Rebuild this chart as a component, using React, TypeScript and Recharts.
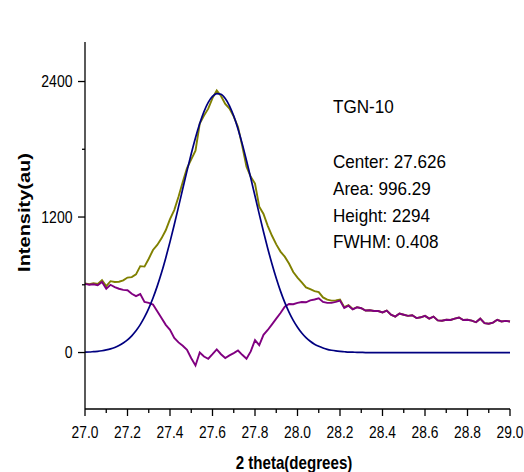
import { LineChart, Line, XAxis, YAxis } from 'recharts';

// 2 theta grid (deg)
const twoTheta = [
  27.0, 27.02, 27.04, 27.06, 27.08, 27.1, 27.12, 27.14, 27.16, 27.18,
  27.2, 27.22, 27.24, 27.26, 27.28, 27.3, 27.32, 27.34, 27.36, 27.38,
  27.4, 27.42, 27.44, 27.46, 27.48, 27.5, 27.52, 27.54, 27.56, 27.58,
  27.6, 27.62, 27.64, 27.66, 27.68, 27.7, 27.72, 27.74, 27.76, 27.78,
  27.8, 27.82, 27.84, 27.86, 27.88, 27.9, 27.92, 27.94, 27.96, 27.98,
  28.0, 28.02, 28.04, 28.06, 28.08, 28.1, 28.12, 28.14, 28.16, 28.18,
  28.2, 28.22, 28.24, 28.26, 28.28, 28.3, 28.32, 28.34, 28.36, 28.38,
  28.4, 28.42, 28.44, 28.46, 28.48, 28.5, 28.52, 28.54, 28.56, 28.58,
  28.6, 28.62, 28.64, 28.66, 28.68, 28.7, 28.72, 28.74, 28.76, 28.78,
  28.8, 28.82, 28.84, 28.86, 28.88, 28.9, 28.92, 28.94, 28.96, 28.98,
  29.0,
];

// measured intensity (olive)
const measured = [
  611, 605, 613, 607, 641, 588, 632, 625, 627, 639,
  664, 668, 692, 765, 761, 831, 908, 953, 1011, 1083,
  1181, 1262, 1380, 1510, 1633, 1711, 1788, 2028, 2098, 2160,
  2253, 2321, 2272, 2202, 2160, 2089, 1998, 1828, 1646, 1556,
  1496, 1291, 1227, 1122, 1034, 958, 894, 849, 788, 713,
  664, 621, 577, 562, 544, 535, 488, 468, 460, 462,
  470, 402, 419, 385, 402, 393, 372, 375, 368, 368,
  355, 372, 335, 318, 345, 335, 325, 330, 305, 312,
  325, 300, 318, 285, 282, 290, 288, 300, 310, 288,
  290, 282, 268, 300, 260, 255, 265, 290, 275, 280,
  275,
];

// gaussian fit (navy)
const fitted = [
  3, 5, 8, 11, 16, 23, 32, 45, 62, 84,
  112, 148, 192, 247, 313, 391, 483, 588, 706, 838,
  980, 1132, 1290, 1450, 1609, 1761, 1903, 2028, 2133, 2215,
  2268, 2293, 2287, 2250, 2185, 2094, 1980, 1848, 1701, 1546,
  1386, 1226, 1070, 922, 784, 658, 544, 444, 358, 285,
  224, 173, 132, 100, 74, 55, 40, 28, 20, 14,
  10, 7, 4, 3, 2, 1, 0, 0, 0, 0,
  0, 0, 0, 0, 0, 0, 0, 0, 0, 0,
  0, 0, 0, 0, 0, 0, 0, 0, 0, 0,
  0, 0, 0, 0, 0, 0, 0, 0, 0, 0,
  0,
];

// residual (purple)
const residual = [
  608, 600, 605, 596, 625, 565, 600, 580, 565, 555,
  552, 520, 500, 518, 448, 440, 425, 365, 305, 245,
  201, 130, 90, 60, 24, -50, -115, 0, -35, -55,
  -15, 28, -15, -48, -25, -5, 18, -20, -55, 10,
  110, 65, 157, 200, 250, 300, 350, 405, 430, 428,
  440, 448, 445, 462, 470, 480, 448, 440, 440, 448,
  460, 395, 415, 382, 400, 392, 372, 375, 368, 368,
  355, 372, 335, 318, 345, 335, 325, 330, 305, 312,
  325, 300, 318, 285, 282, 290, 288, 300, 310, 288,
  290, 282, 268, 300, 260, 255, 265, 290, 275, 280,
  275,
];

const xTicks = [
  27.0, 27.1, 27.2, 27.3, 27.4, 27.5, 27.6, 27.7, 27.8, 27.9,
  28.0, 28.1, 28.2, 28.3, 28.4, 28.5, 28.6, 28.7, 28.8, 28.9, 29.0,
];
const yTicks = [0, 600, 1200, 1800, 2400];

const fitLines = ['TGN-10', 'Center: 27.626', 'Area: 996.29', 'Height: 2294', 'FWHM: 0.408'];

const rows = twoTheta.map((x, i) => ({
  x,
  measured: measured[i],
  fitted: fitted[i],
  residual: residual[i],
}));

const FONT = '"Liberation Sans", Arial, sans-serif';

function XTick({ x, y, payload }: any) {
  const v = payload.value;
  const major = Math.round(v * 10) % 2 === 0;
  return (
    <g>
      <line x1={x} y1={y} x2={x} y2={y + (major ? 7 : 4)} stroke="#000" strokeWidth={1.3} />
      {major && (
        <text
          transform={`translate(${x},${y + 28.5}) scale(0.81,1)`}
          textAnchor="middle"
          fontSize={17}
          fontFamily={FONT}
          fill="#000"
        >
          {v.toFixed(1)}
        </text>
      )}
    </g>
  );
}

function YTick({ x, y, payload }: any) {
  const v = payload.value;
  const major = v % 1200 === 0;
  return (
    <g>
      <line x1={x - (major ? 7 : 3)} y1={y} x2={x} y2={y} stroke="#000" strokeWidth={1.3} />
      {major && (
        <text
          transform={`translate(${x - 12.5},${y + 5.5}) scale(0.85,1)`}
          textAnchor="end"
          fontSize={16.5}
          fontFamily={FONT}
          fill="#000"
        >
          {v}
        </text>
      )}
    </g>
  );
}

export default function App() {
  return (
    <div style={{ position: 'absolute', left: 0, top: 0, width: 524, height: 472, background: '#fff' }}>
      <LineChart width={524} height={472} data={rows} margin={{ top: 42, right: 14, bottom: 0, left: 0 }}>
        <XAxis
          dataKey="x"
          type="number"
          domain={[27, 29]}
          ticks={xTicks}
          interval={0}
          height={63}
          tickSize={0}
          tickMargin={0}
          tickLine={false}
          tick={<XTick />}
          axisLine={{ stroke: '#000', strokeWidth: 1.3 }}
        />
        <YAxis
          type="number"
          domain={[-500, 2750]}
          ticks={yTicks}
          interval={0}
          width={85}
          tickSize={0}
          tickMargin={0}
          tickLine={false}
          tick={<YTick />}
          axisLine={{ stroke: '#000', strokeWidth: 1.3 }}
        />
        <Line dataKey="measured" stroke="#808000" strokeWidth={1.9} dot={false} type="linear" isAnimationActive={false} />
        <Line dataKey="residual" stroke="#800080" strokeWidth={1.9} dot={false} type="linear" isAnimationActive={false} />
        <Line dataKey="fitted" stroke="#000080" strokeWidth={1.7} dot={false} type="monotone" isAnimationActive={false} />
      </LineChart>
      <svg
        width={524}
        height={472}
        style={{ position: 'absolute', left: 0, top: 0, pointerEvents: 'none' }}
      >
        <text transform="translate(333,113) scale(0.9,1)" fontSize={19} fontFamily={FONT} fill="#000">
          {fitLines[0]}
        </text>
        {fitLines.slice(1).map((t, i) => (
          <text
            key={t}
            transform={`translate(333,${168.3 + i * 26.6}) scale(0.95,1)`}
            fontSize={18}
            fontFamily={FONT}
            fill="#000"
          >
            {t}
          </text>
        ))}
        <text
          transform="translate(30,212.5) rotate(-90) scale(1,0.82)"
          textAnchor="middle"
          fontSize={20}
          fontWeight="bold"
          fontFamily={FONT}
          fill="#000"
        >
          Intensity(au)
        </text>
        <text
          transform="translate(294,469) scale(0.84,1)"
          textAnchor="middle"
          fontSize={18}
          fontWeight="bold"
          fontFamily={FONT}
          fill="#000"
        >
          2 theta(degrees)
        </text>
      </svg>
    </div>
  );
}
